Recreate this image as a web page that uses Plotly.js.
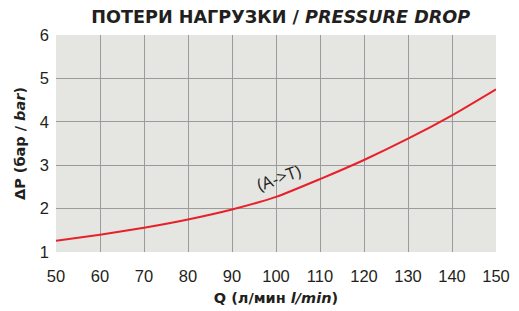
<!DOCTYPE html>
<html><head><meta charset="utf-8">
<script src="https://cdn.plot.ly/plotly-3.0.1.min.js"></script>
<style>html,body{margin:0;padding:0;background:#fff}</style>
</head><body><div id="chart" style="width:519px;height:311px"></div>
<script>
const flowQ = [50, 60, 70, 80, 90, 100, 110, 120, 130, 140, 150];
const pressureDrop = [1.26, 1.40, 1.56, 1.75, 1.98, 2.27, 2.68, 3.12, 3.61, 4.15, 4.75];
const xTicks = [50, 60, 70, 80, 90, 100, 110, 120, 130, 140, 150];
const yTicks = [1, 2, 3, 4, 5, 6];
const curveLabel = "(A->T)";

const trace = {
  x: flowQ, y: pressureDrop, type: 'scatter', mode: 'lines',
  line: {color: '#e8202a', width: 2, shape: 'spline', smoothing: 0.6},
  hoverinfo: 'skip'
};
const bold = '"DejaVu Sans", "Liberation Sans", Arial, sans-serif';
const layout = {
  width: 519, height: 311,
  margin: {l: 56, r: 23, t: 35, b: 59},
  paper_bgcolor: '#ffffff', plot_bgcolor: '#e5e5e1',
  showlegend: false,
  font: {family: '"Liberation Sans", Arial, sans-serif', color: '#231f20', size: 16.5},
  title: {text: '<b>ПОТЕРИ НАГРУЗКИ / <i>PRESSURE DROP</i></b>', x: 0.541, xanchor: 'center', y: 0.945, yanchor: 'middle',
    font: {family: bold, size: 17.6, color: '#231f20'}},
  xaxis: {range: [50, 150], tickvals: xTicks, ticktext: xTicks.map(String), showgrid: true,
    gridcolor: '#9b9b9b', gridwidth: 1, zeroline: false, showline: false, ticks: '', ticklabelstandoff: 12,
    tickfont: {size: 16.5},
    title: {text: '<b>Q (л/мин <i>l/min</i>)</b>', font: {family: bold, size: 14.5}, standoff: 9}},
  yaxis: {range: [1, 6], tickvals: yTicks, ticktext: yTicks.map(String), showgrid: true,
    gridcolor: '#9b9b9b', gridwidth: 1, zeroline: false, showline: false, ticks: '', ticklabelstandoff: 6,
    tickfont: {size: 16.5},
    title: {text: '<b>ΔP (бар / <i>bar</i>)</b>', font: {family: bold, size: 14.5}, standoff: 10}},
  annotations: [{x: 100.6, y: 2.72, xref: 'x', yref: 'y', text: curveLabel, showarrow: false,
    textangle: -20, font: {family: '"Open Sans", "Liberation Sans", sans-serif', size: 17, color: '#231f20'}}]
};
Plotly.newPlot('chart', [trace], layout, {staticPlot: true, displayModeBar: false});
</script></body></html>
